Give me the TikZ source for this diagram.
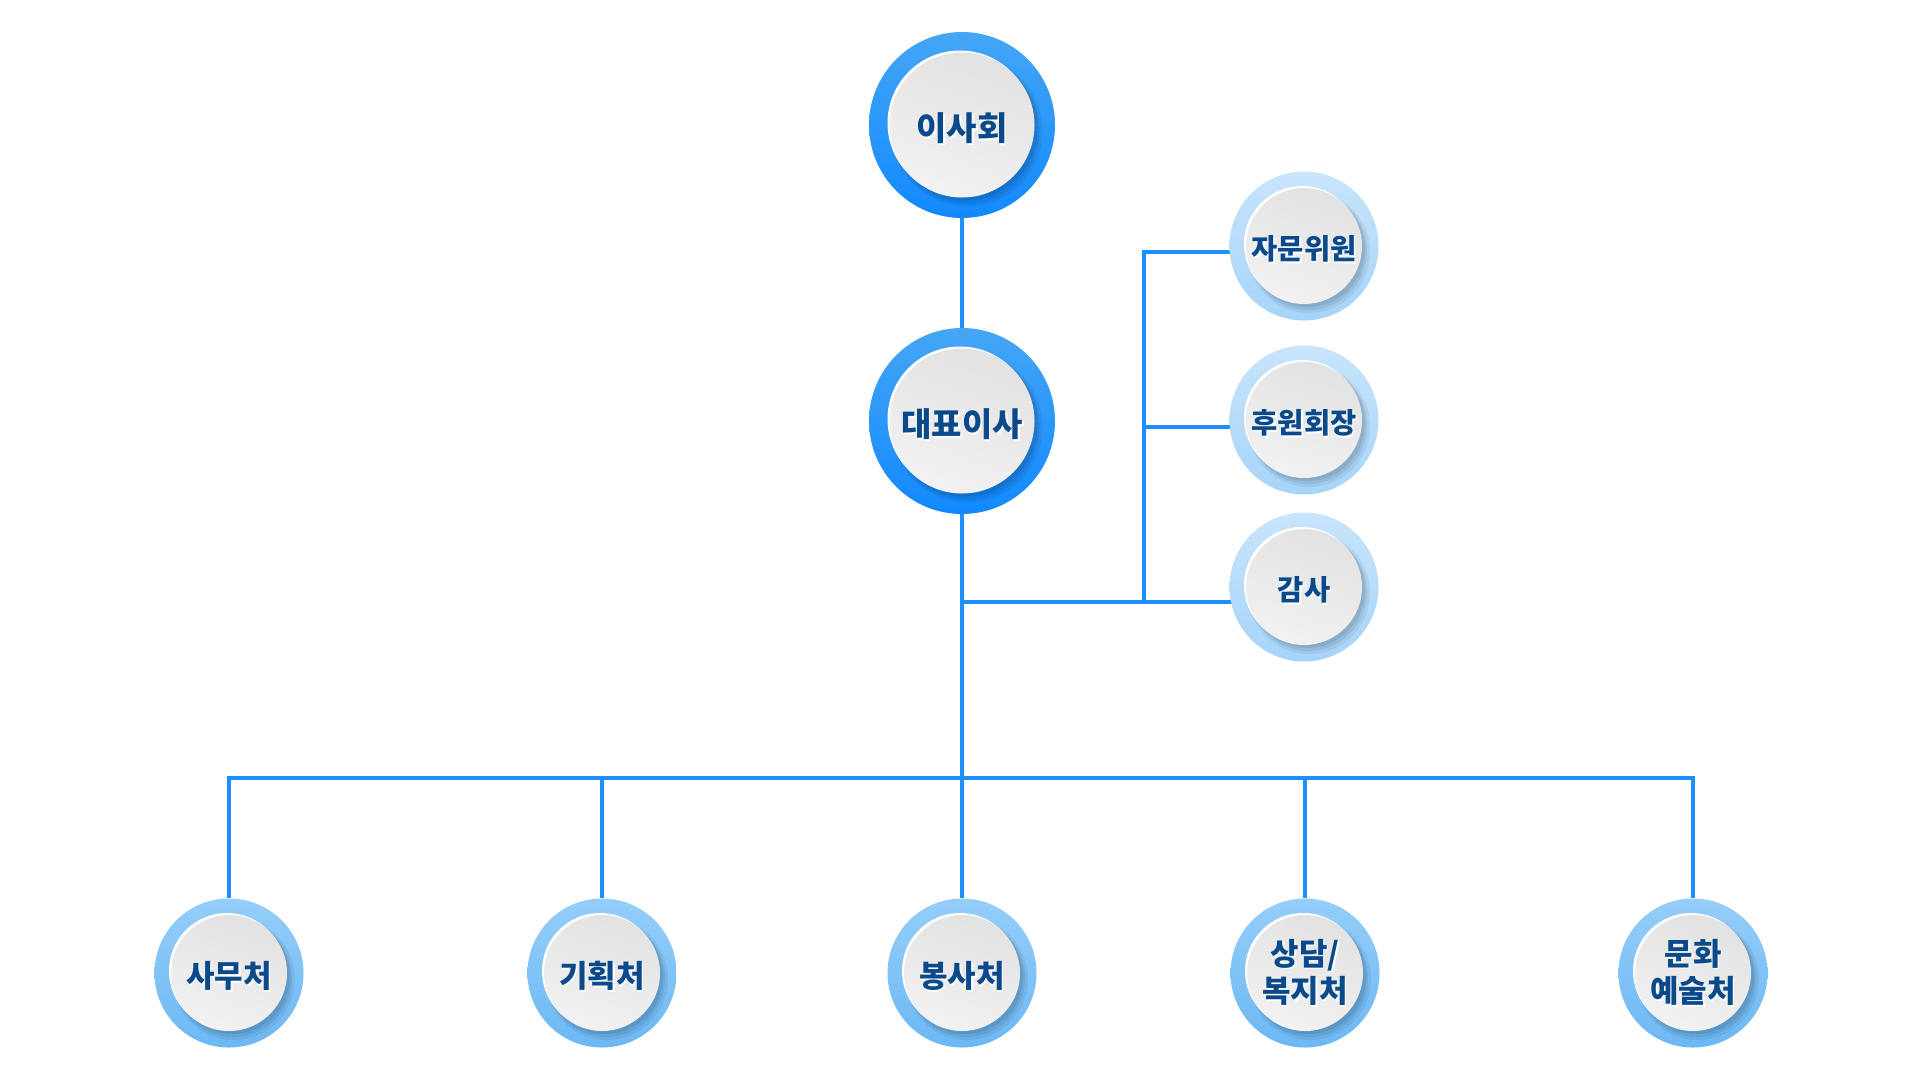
\documentclass[tikz,border=0pt]{standalone}
\usepackage{fontspec}
\setmainfont{Noto Sans CJK KR}
\usetikzlibrary{calc}
\definecolor{txtc}{HTML}{0B4A8A}
\definecolor{linec}{HTML}{1E8FFF}
\definecolor{bigA}{HTML}{45A6F5}
\definecolor{bigB}{HTML}{1189FF}
\definecolor{sideA}{HTML}{C8E5FC}
\definecolor{sideB}{HTML}{A6D4F9}
\definecolor{botA}{HTML}{95CEF9}
\definecolor{botB}{HTML}{6CB8F5}
\definecolor{inA}{HTML}{E2E2E2}
\definecolor{inB}{HTML}{F2F2F2}
\newcommand\shtext[1]{\raisebox{-4pt}[\height][\depth]{\makebox[0pt][l]{\hspace{1.7pt}\raisebox{-1.7pt}{\color{white}#1}}{\color{txtc}#1}}}
\pgfdeclarelayer{back}
\pgfdeclarelayer{lines}
\pgfsetlayers{back,lines,main}
\tikzset{
  conn/.style={draw=linec, line width=4pt},
  disc/.style={circle, inner sep=0pt, align=center, shading=axis, shading angle=45,
    path picture={
      \coordinate (pc) at (path picture bounding box.center);
      \fill[black, opacity=0.06] ([shift={(5pt,-6pt)}]pc) circle (\innerr+3pt);
      \fill[black, opacity=0.07] ([shift={(4pt,-5pt)}]pc) circle (\innerr+1pt);
      \fill[black, opacity=0.08] ([shift={(3pt,-3pt)}]pc) circle (\innerr);
      \fill[white] ([shift={(-2pt,2pt)}]pc) circle (\innerr);
      \shade[top color=inA, bottom color=inB, shading angle=-20] (pc) circle (\innerr);
    }},
  bigdisc/.style={disc, minimum size=186pt, top color=bigA, bottom color=bigB,
    /utils/exec={\def\innerr{72.5pt}}, font=\fontsize{33}{38}\selectfont\bfseries},
  sidedisc/.style={disc, minimum size=149pt, top color=sideA, bottom color=sideB,
    /utils/exec={\def\innerr{58pt}}, font=\fontsize{28.5}{34}\selectfont\bfseries},
  botdisc/.style={disc, minimum size=149pt, top color=botA, bottom color=botB,
    /utils/exec={\def\innerr{58pt}}, font=\fontsize{31}{37}\selectfont\bfseries},
}
\begin{document}
\begin{tikzpicture}[x=1pt, y=-1pt]
\begin{pgfonlayer}{back}
  \fill[white] (0,0) rectangle (1920,1080);
\end{pgfonlayer}
\useasboundingbox (0,0) rectangle (1920,1080);

\node[bigdisc] (board) at (962,125) {\shtext{이사회}};
\node[bigdisc] (ceo) at (962,421) {\shtext{대표이사}};

\node[sidedisc] (adv) at (1304,246) {\shtext{자문위원}};
\node[sidedisc] (spons) at (1304,420) {\shtext{후원회장}};
\node[sidedisc] (audit) at (1304,587) {\shtext{감사}};

\node[botdisc] (b1) at (229,973) {\shtext{사무처}};
\node[botdisc] (b2) at (602,973) {\shtext{기획처}};
\node[botdisc] (b3) at (962,973) {\shtext{봉사처}};
\node[botdisc] (b4) at (1305,973) {\shtext{\begin{tabular}{@{}c@{}}상담/\\복지처\end{tabular}}};
\node[botdisc] (b5) at (1693,973) {\shtext{\begin{tabular}{@{}c@{}}문화\\예술처\end{tabular}}};

\coordinate (bar) at (962,778);
\coordinate (junc) at (962,602);
\coordinate (spineTop) at (1144,252);
\coordinate (spineMid) at (1144,427);
\coordinate (spineBot) at (1144,602);

\begin{pgfonlayer}{lines}
  \draw[conn] (board) -- (ceo);
  \draw[conn] (ceo) -- (bar);
  \draw[conn] (junc) -- (audit |- junc);
  \draw[conn] (spineBot) -- (spineTop) -- (adv |- spineTop);
  \draw[conn] (spineMid) -- (spons |- spineMid);
  \draw[conn] (b1) -- (b1 |- bar) -- (b5 |- bar) -- (b5);
  \draw[conn] (b2) -- (b2 |- bar);
  \draw[conn] (b3) -- (b3 |- bar);
  \draw[conn] (b4) -- (b4 |- bar);
\end{pgfonlayer}
\end{tikzpicture}
\end{document}
